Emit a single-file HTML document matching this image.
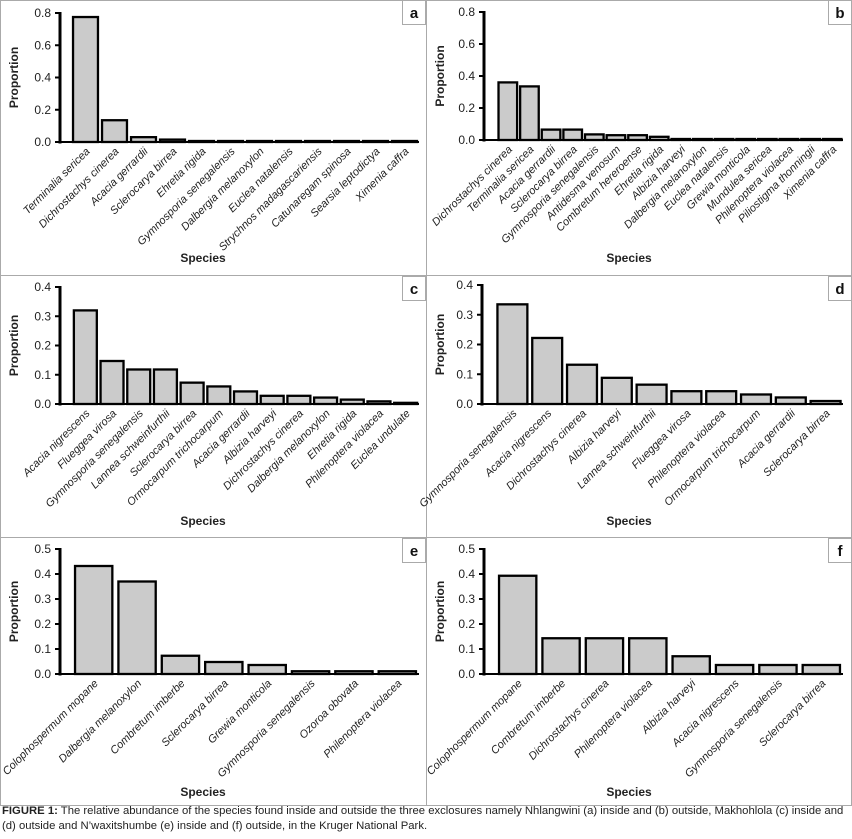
<!DOCTYPE html>
<html><head><meta charset="utf-8">
<style>
html,body{margin:0;padding:0;background:#fff;}
body{width:852px;height:839px;overflow:hidden;font-family:"Liberation Sans",sans-serif;}
#cap{position:absolute;left:2px;top:804px;font-size:11.3px;line-height:15px;color:#222;width:850px;}
</style></head>
<body>
<svg id="fig" width="852" height="806" style="position:absolute;left:0;top:0" xmlns="http://www.w3.org/2000/svg"></svg>
<div id="cap"><b>FIGURE 1:</b> The relative abundance of the species found inside and outside the three exclosures namely Nhlangwini (a) inside and (b) outside, Makhohlola (c) inside and (d) outside and N’waxitshumbe (e) inside and (f) outside, in the Kruger National Park.</div>
<script>
const catsA=["Terminalia sericea","Dichrostachys cinerea","Acacia gerrardii","Sclerocarya birrea","Ehretia rigida","Gymnosporia senegalensis","Dalbergia melanoxylon","Euclea natalensis","Strychnos madagascariensis","Catunaregam spinosa","Searsia leptodictya","Ximenia caffra"];
const valsA=[0.775,0.135,0.03,0.015,0.006,0.006,0.006,0.006,0.005,0.004,0.004,0.004];
const catsB=["Dichrostachys cinerea","Terminalia sericea","Acacia gerrardii","Sclerocarya birrea","Gymnosporia senegalensis","Antidesma venosum","Combretum hereroense","Ehretia rigida","Albizia harveyi","Dalbergia melanoxylon","Euclea natalensis","Grewia monticola","Mundulea sericea","Philenoptera violacea","Piliostigma thonningii","Ximenia caffra"];
const valsB=[0.36,0.335,0.065,0.065,0.035,0.03,0.03,0.02,0.006,0.006,0.006,0.006,0.006,0.006,0.006,0.006];
const catsC=["Acacia nigrescens","Flueggea virosa","Gymnosporia senegalensis","Lannea schweinfurthii","Sclerocarya birrea","Ormocarpum trichocarpum","Acacia gerrardii","Albizia harveyi","Dichrostachys cinerea","Dalbergia melanoxylon","Ehretia rigida","Philenoptera violacea","Euclea undulate"];
const valsC=[0.32,0.147,0.118,0.118,0.073,0.06,0.043,0.028,0.028,0.022,0.015,0.009,0.004];
const catsD=["Gymnosporia senegalensis","Acacia nigrescens","Dichrostachys cinerea","Albizia harveyi","Lannea schweinfurthii","Flueggea virosa","Philenoptera violacea","Ormocarpum trichocarpum","Acacia gerrardii","Sclerocarya birrea"];
const valsD=[0.335,0.222,0.132,0.088,0.065,0.043,0.043,0.032,0.022,0.01];
const catsE=["Colophospermum mopane","Dalbergia melanoxylon","Combretum imberbe","Sclerocarya birrea","Grewia monticola","Gymnosporia senegalensis","Ozoroa obovata","Philenoptera violacea"];
const valsE=[0.432,0.37,0.073,0.048,0.036,0.011,0.011,0.011];
const catsF=["Colophospermum mopane","Combretum imberbe","Dichrostachys cinerea","Philenoptera violacea","Albizia harveyi","Acacia nigrescens","Gymnosporia senegalensis","Sclerocarya birrea"];
const valsF=[0.393,0.143,0.143,0.143,0.071,0.036,0.036,0.036];
const ticksA=["0.0","0.2","0.4","0.6","0.8"];
const ticksC=["0.0","0.1","0.2","0.3","0.4"];
const ticksE=["0.0","0.1","0.2","0.3","0.4","0.5"];

const NS="http://www.w3.org/2000/svg";
const svg=document.getElementById('fig');
function mk(tag,attrs,parent){const e=document.createElementNS(NS,tag);for(const k in attrs)e.setAttribute(k,attrs[k]);(parent||svg).appendChild(e);return e;}

const frame=mk('g',{});


mk('rect',{x:0.5,y:0.5,width:851,height:805,fill:'none',stroke:'#aaa','stroke-width':1},frame);
mk('line',{x1:426.5,y1:0,x2:426.5,y2:806,stroke:'#aaa'},frame);
mk('line',{x1:0,y1:275.5,x2:852,y2:275.5,stroke:'#aaa'},frame);
mk('line',{x1:0,y1:537.5,x2:852,y2:537.5,stroke:'#aaa'},frame);

const panels=[
 {id:'a',cats:catsA,vals:valsA,ticks:ticksA,max:0.8,ax:60,top:13,base:142,x0:71,x1:419,py:0,px:0,sp:258},
 {id:'b',cats:catsB,vals:valsB,ticks:ticksA,max:0.8,ax:484,top:12,base:140,x0:497,x1:843,py:0,px:426,sp:258},
 {id:'c',cats:catsC,vals:valsC,ticks:ticksC,max:0.4,ax:60,top:287,base:404,x0:72,x1:419,py:276,px:0,sp:521},
 {id:'d',cats:catsD,vals:valsD,ticks:ticksC,max:0.4,ax:482,top:285,base:404,x0:495,x1:843,py:276,px:426,sp:521},
 {id:'e',cats:catsE,vals:valsE,ticks:ticksE,max:0.5,ax:60,top:549,base:674,x0:72,x1:419,py:538,px:0,sp:792},
 {id:'f',cats:catsF,vals:valsF,ticks:ticksE,max:0.5,ax:484,top:549,base:674,x0:496,x1:843,py:538,px:426,sp:792}
];

panels.forEach(p=>{
  const g=mk('g',{});
  
  
  const y=v=>p.base-(v/p.max)*(p.base-p.top);
  const band=(p.x1-p.x0)/p.cats.length;
  const xb=i=>p.x0+i*band;
  p.vals.forEach((v,i)=>{
    const h=Math.max(p.base-y(v),1);
    const r=mk('rect',{x:xb(i)+band*0.07,y:p.base-h,width:band*0.86,height:h,fill:'#cbcbcb',stroke:'#000','stroke-width':2.3},g);
    
    
    const t=mk('text',{x:0,y:0,transform:`translate(${xb(i)+band/2+5},${p.base+10}) rotate(-45)`,'text-anchor':'end','font-size':11,'font-style':'italic',fill:'#222'},g);
    t.textContent=p.cats[i];
    
    
  });
  mk('line',{x1:p.ax,y1:p.top-1,x2:p.ax,y2:p.base+1.5,stroke:'#000','stroke-width':3},g);
  mk('line',{x1:p.ax,y1:p.base,x2:p.x1,y2:p.base,stroke:'#000','stroke-width':2},g);
  p.ticks.forEach(tk=>{
    const yy=y(parseFloat(tk));
    mk('line',{x1:p.ax-5,y1:yy,x2:p.ax,y2:yy,stroke:'#000','stroke-width':2},g);
    const t=mk('text',{x:p.ax-9,y:yy+4,'text-anchor':'end','font-size':12,fill:'#222'},g);
    t.textContent=tk;
    
    
  });
  const yt=mk('text',{x:0,y:0,transform:`translate(${p.px+18},${(p.top+p.base)/2}) rotate(-90)`,'text-anchor':'middle','font-size':12,'font-weight':'bold',fill:'#222'},g);
  yt.textContent='Proportion';
  
  
  const xt=mk('text',{x:p.px+203,y:p.sp+4,'text-anchor':'middle','font-size':12,'font-weight':'bold',fill:'#222'},g);
  xt.textContent='Species';
  
  
  const bx=mk('rect',{x:p.px+402.5,y:p.py+0.5,width:23,height:24,fill:'#fff',stroke:'#aaa'},g);
  
  
  const lt=mk('text',{x:p.px+414,y:p.py+18,'text-anchor':'middle','font-size':15,'font-weight':'bold',fill:'#111'},g);
  lt.textContent=p.id;
  
  
});
</script>
</body></html>
